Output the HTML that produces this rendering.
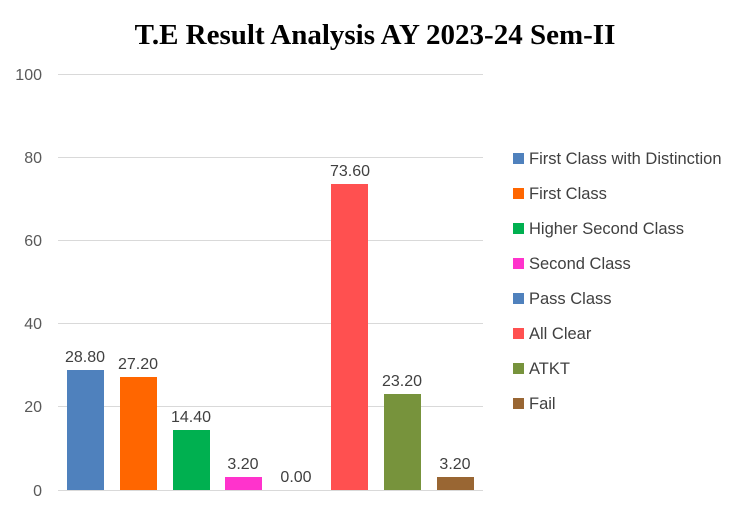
<!DOCTYPE html>
<html><head><meta charset="utf-8"><style>
body{margin:0;background:#fff;}
svg{display:block;}
</style></head><body>
<svg width="750" height="513" xmlns="http://www.w3.org/2000/svg">
<rect width="750" height="513" fill="#fff"/>
<text x="375" y="44" text-anchor="middle" font-family="Liberation Serif, serif" font-weight="bold" font-size="29">T.E Result Analysis AY 2023-24 Sem-II</text>
<g stroke="#d9d9d9" stroke-width="1">
<line x1="58" x2="483" y1="74.5" y2="74.5"/>
<line x1="58" x2="483" y1="157.5" y2="157.5"/>
<line x1="58" x2="483" y1="240.5" y2="240.5"/>
<line x1="58" x2="483" y1="323.5" y2="323.5"/>
<line x1="58" x2="483" y1="406.5" y2="406.5"/>
<line x1="58" x2="483" y1="490.5" y2="490.5"/>
</g>
<g font-family="Liberation Sans, sans-serif" font-size="16" fill="#595959" text-anchor="end">
<text x="42" y="80">100</text>
<text x="42" y="163">80</text>
<text x="42" y="246">60</text>
<text x="42" y="329">40</text>
<text x="42" y="412">20</text>
<text x="42" y="496">0</text>
</g>
<g>
<rect x="67" y="370" width="37" height="120" fill="#4f81bd"/>
<rect x="120" y="377" width="37" height="113" fill="#ff6600"/>
<rect x="173" y="430" width="37" height="60" fill="#00b050"/>
<rect x="225" y="477" width="37" height="13" fill="#ff33cc"/>
<rect x="331" y="184" width="37" height="306" fill="#ff5050"/>
<rect x="384" y="394" width="37" height="96" fill="#77933c"/>
<rect x="437" y="477" width="37" height="13" fill="#996633"/>
</g>
<g font-family="Liberation Sans, sans-serif" font-size="16" fill="#404040" text-anchor="middle">
<text x="85" y="362">28.80</text>
<text x="138" y="369">27.20</text>
<text x="191" y="422">14.40</text>
<text x="243" y="469">3.20</text>
<text x="296" y="482">0.00</text>
<text x="350" y="176">73.60</text>
<text x="402" y="386">23.20</text>
<text x="455" y="469">3.20</text>
</g>
<g font-family="Liberation Sans, sans-serif" font-size="16.5" fill="#404040">
<rect x="513" y="153" width="11" height="11" fill="#4f81bd"/><text x="529" y="164">First Class with Distinction</text>
<rect x="513" y="188" width="11" height="11" fill="#ff6600"/><text x="529" y="199">First Class</text>
<rect x="513" y="223" width="11" height="11" fill="#00b050"/><text x="529" y="234">Higher Second Class</text>
<rect x="513" y="258" width="11" height="11" fill="#ff33cc"/><text x="529" y="269">Second Class</text>
<rect x="513" y="293" width="11" height="11" fill="#4f81bd"/><text x="529" y="304">Pass Class</text>
<rect x="513" y="328" width="11" height="11" fill="#ff5050"/><text x="529" y="339">All Clear</text>
<rect x="513" y="363" width="11" height="11" fill="#77933c"/><text x="529" y="374">ATKT</text>
<rect x="513" y="398" width="11" height="11" fill="#996633"/><text x="529" y="409">Fail</text>
</g>
</svg>
</body></html>
